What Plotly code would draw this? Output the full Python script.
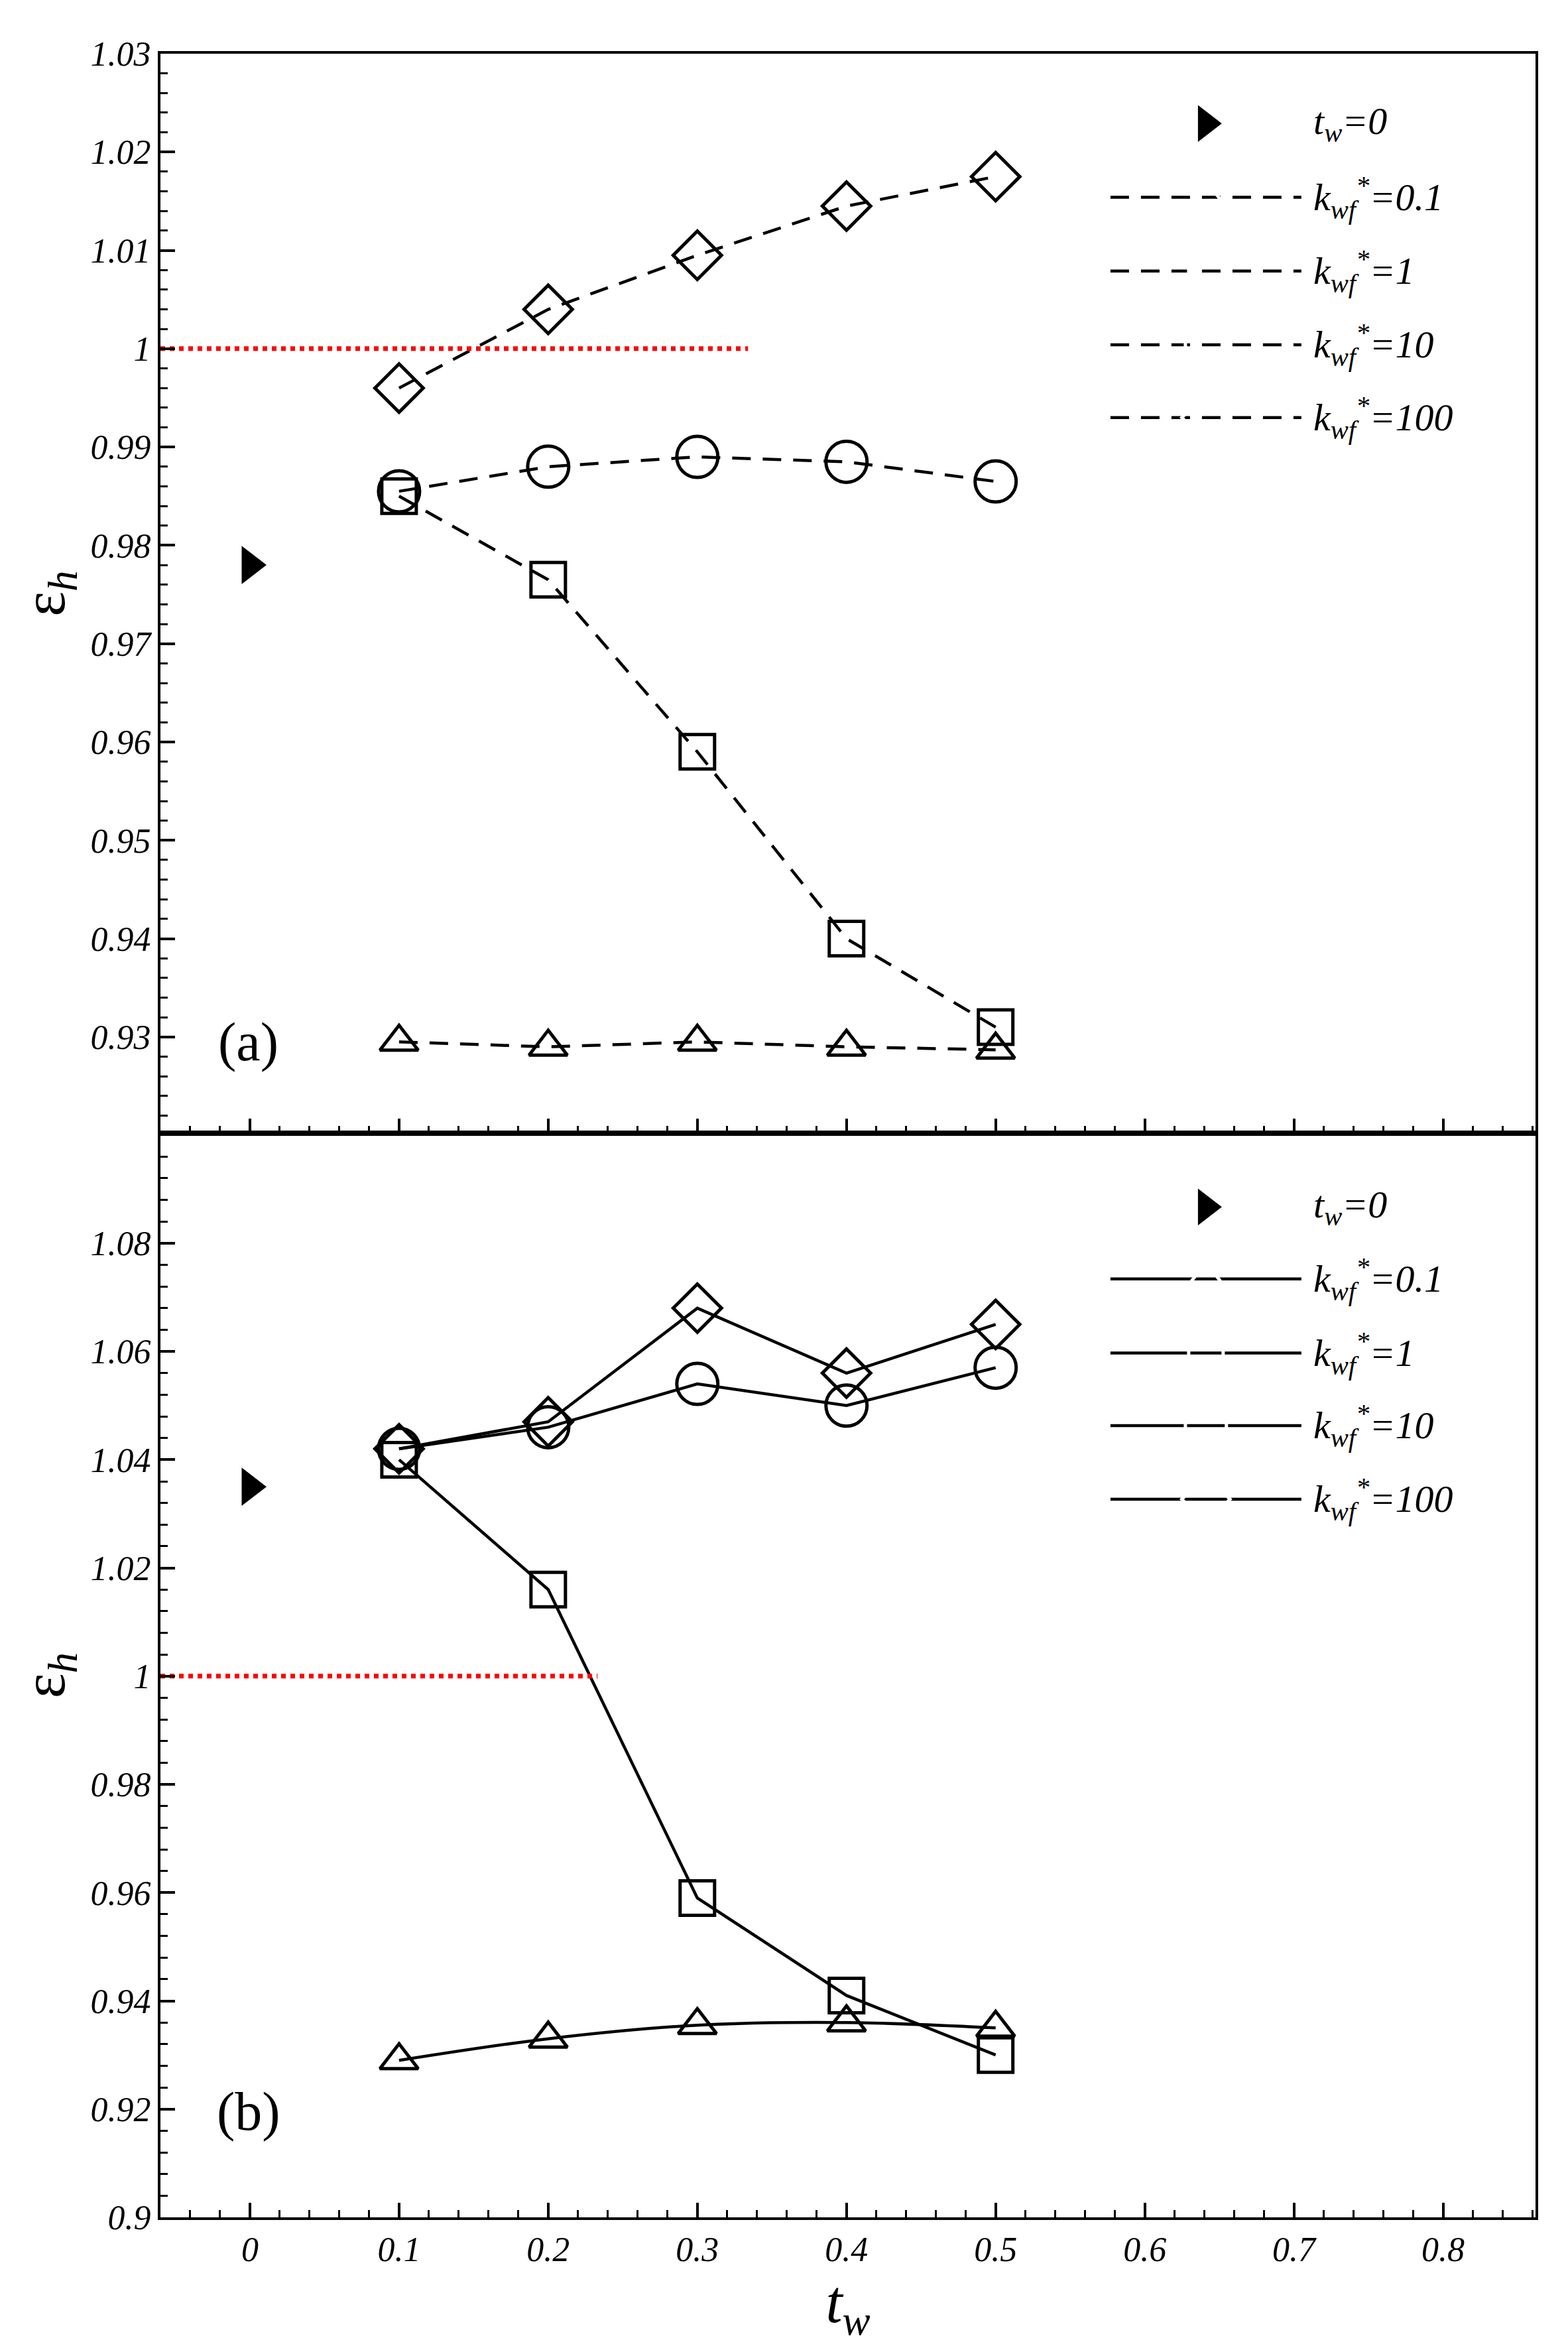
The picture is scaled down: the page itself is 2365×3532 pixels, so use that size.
import plotly.graph_objects as go

# tw values
tw = [0.1, 0.2, 0.3, 0.4, 0.5]

# panel (a): dashed
a_tw0 = 0.978
a_k01 = [0.9295, 0.929, 0.9295, 0.929, 0.9287]
a_k1 = [0.985, 0.9765, 0.959, 0.940, 0.931]
a_k10 = [0.9855, 0.988, 0.989, 0.9885, 0.9865]
a_k100 = [0.996, 1.004, 1.0095, 1.0145, 1.0175]

# panel (b): solid
b_tw0 = 1.035
b_k01 = [0.929, 0.933, 0.9355, 0.936, 0.935]
b_k1 = [1.040, 1.016, 0.959, 0.941, 0.930]
b_k10 = [1.042, 1.046, 1.054, 1.050, 1.057]
b_k100 = [1.042, 1.047, 1.068, 1.056, 1.065]

labels = ["0.1", "1", "10", "100"]
symbols = ["triangle-up-open", "square-open", "circle-open", "diamond-open"]

a_ticks = [0.93, 0.94, 0.95, 0.96, 0.97, 0.98, 0.99, 1.0, 1.01, 1.02, 1.03]
a_ticktext = ["0.93", "0.94", "0.95", "0.96", "0.97", "0.98", "0.99", "1", "1.01", "1.02", "1.03"]
b_ticks = [0.9, 0.92, 0.94, 0.96, 0.98, 1.0, 1.02, 1.04, 1.06, 1.08]
b_ticktext = ["0.9", "0.92", "0.94", "0.96", "0.98", "1", "1.02", "1.04", "1.06", "1.08"]
x_ticks = [0, 0.1, 0.2, 0.3, 0.4, 0.5, 0.6, 0.7, 0.8]
x_ticktext = ["0", "0.1", "0.2", "0.3", "0.4", "0.5", "0.6", "0.7", "0.8"]

FONT = "Liberation Serif"
fig = go.Figure()

sizes = [50, 52, 62, 56]
DASH = "28px,18px"


def italic(lst):
    return ["<i>" + s + "</i>" for s in lst]


def panel(series, dash, ya, tw0, leg_y, red_end):
    yref = "y" if ya == "y" else "y2"
    xref = "x" if ya == "y" else "x2"
    for i, ys in enumerate(series):
        fig.add_trace(go.Scatter(
            x=tw, y=ys, mode="lines+markers", xaxis=xref, yaxis=yref,
            line=dict(color="black", width=4.5, dash=dash,
                      shape="spline" if (dash == "solid" and i == 0) else "linear"),
            marker=dict(symbol=symbols[i], size=sizes[i], color="black",
                        line=dict(width=5, color="black")),
            showlegend=False))
    fig.add_trace(go.Scatter(
        x=[0], y=[tw0], mode="markers", xaxis=xref, yaxis=yref,
        marker=dict(symbol="triangle-right", size=50, color="black"), showlegend=False))
    # red reference line at 1
    fig.add_trace(go.Scatter(
        x=[-0.06, red_end], y=[1, 1], mode="lines", xaxis=xref, yaxis=yref,
        line=dict(color="red", width=7, dash="dot"), showlegend=False))
    # hand-made legend
    fig.add_trace(go.Scatter(
        x=[0.641], y=[leg_y[0]], mode="markers", xaxis=xref, yaxis=yref,
        marker=dict(symbol="triangle-right", size=48, color="black"), showlegend=False))
    fig.add_annotation(x=0.712, y=leg_y[0], xref=xref, yref=yref, xanchor="left",
                       text="<i>t<sub>w</sub>=0</i>", showarrow=False,
                       font=dict(family=FONT, size=58, color="black"))
    for i in range(4):
        fig.add_trace(go.Scatter(
            x=[0.577, 0.705], y=[leg_y[i + 1]] * 2, mode="lines",
            xaxis=xref, yaxis=yref,
            line=dict(color="black", width=4.5, dash=dash), showlegend=False))
        fig.add_trace(go.Scatter(
            x=[0.641], y=[leg_y[i + 1]], mode="markers",
            xaxis=xref, yaxis=yref,
            marker=dict(symbol=symbols[i], size=sizes[i], color="white",
                        line=dict(width=5, color="black")),
            showlegend=False))
        fig.add_annotation(x=0.712, y=leg_y[i + 1], xref=xref, yref=yref, xanchor="left",
                           text="<i>k<sub>wf</sub><sup>*</sup>=" + labels[i] + "</i>",
                           showarrow=False, font=dict(family=FONT, size=58, color="black"))


panel([a_k01, a_k1, a_k10, a_k100], DASH, "y", a_tw0,
      [1.0229, 1.0154, 1.0079, 1.0004, 0.9930], 0.334)
panel([b_k01, b_k1, b_k10, b_k100], "solid", "y2", b_tw0,
      [1.0867, 1.0734, 1.0597, 1.0463, 1.0327], 0.233)

fig.add_annotation(x=-0.001, y=0.9295, xref="x", yref="y", text="(a)", showarrow=False,
                   font=dict(family=FONT, size=82, color="black"))
fig.add_annotation(x=-0.001, y=0.9195, xref="x2", yref="y2", text="(b)", showarrow=False,
                   font=dict(family=FONT, size=82, color="black"))

axis_common = dict(showline=True, linecolor="black", linewidth=4, mirror=True,
                   ticks="inside", ticklen=22, tickwidth=4, tickcolor="black",
                   showgrid=False, zeroline=False,
                   tickfont=dict(family=FONT, size=52, color="black"))
xaxis_common = dict(axis_common, range=[-0.06, 0.862], tickvals=x_ticks,
                    ticktext=italic(x_ticktext),
                    minor=dict(ticks="inside", ticklen=11, tickwidth=3,
                               tickcolor="black", dtick=0.02, tick0=0))

fig.update_layout(
    width=2365, height=3532, plot_bgcolor="white", paper_bgcolor="white",
    font=dict(family=FONT, color="black"),
    margin=dict(l=234, r=57, t=73, b=196),
    xaxis=dict(xaxis_common, anchor="y", showticklabels=False),
    yaxis=dict(axis_common, domain=[0.501, 1], range=[0.9202, 1.03],
               tickvals=a_ticks, ticktext=italic(a_ticktext),
               minor=dict(ticks="inside", ticklen=11, tickwidth=3, tickcolor="black",
                          dtick=0.002, tick0=0.93),
               title=dict(text="ε<sub><i>h</i></sub>", standoff=10,
                          font=dict(family=FONT, size=90, color="black"))),
    xaxis2=dict(xaxis_common, anchor="y2",
                title=dict(text="<i>t<sub>w</sub></i>", standoff=20,
                           font=dict(family=FONT, size=90, color="black"))),
    yaxis2=dict(axis_common, domain=[0, 0.501], range=[0.9, 1.1003],
                tickvals=b_ticks, ticktext=italic(b_ticktext),
                minor=dict(ticks="inside", ticklen=11, tickwidth=3, tickcolor="black",
                           dtick=0.004, tick0=0.9),
                title=dict(text="ε<sub><i>h</i></sub>", standoff=10,
                           font=dict(family=FONT, size=90, color="black"))),
)

fig.write_html("out.html")
